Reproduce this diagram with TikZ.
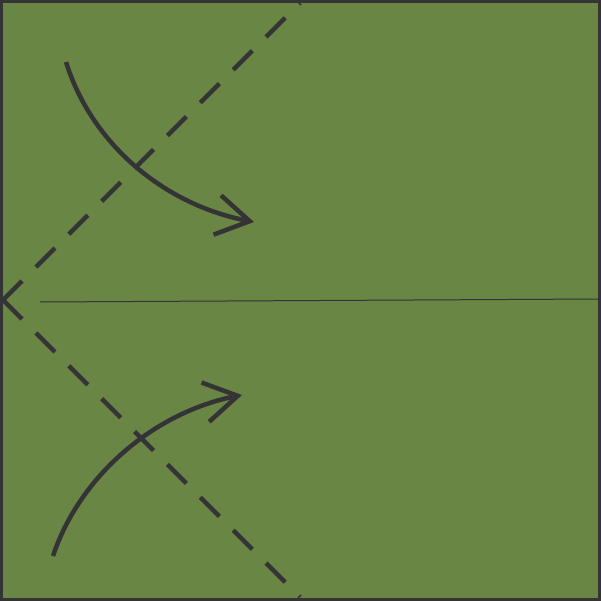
\documentclass[tikz,border=0pt]{standalone}
\usetikzlibrary{arrows.meta}

\definecolor{paper}{RGB}{106,134,68}
\definecolor{ink}{RGB}{52,51,54}

\tikzset{
  valley/.style={ink, line width=4.5pt, dash pattern=on 27pt off 19.5pt},
  flip/.style={ink, line width=4.5pt, -{Straight Barb[length=33pt, width=40pt, line width=4.5pt]}},
}

\begin{document}
\begin{tikzpicture}[x=1pt, y=-1pt]
  \useasboundingbox (0,0) rectangle (601,601);

  % Paper square
  \fill[paper] (1.5,1.5) rectangle (599.5,599.5);

  % Corner points of the folds
  \coordinate (corner) at (3,300);
  \coordinate (topend) at (300,3);
  \coordinate (botend) at (300,597);

  % Centre crease
  \draw[ink, line width=1pt] (40,302) -- (600,299);

  % Valley folds from the left corner
  \draw[valley] (corner) -- (topend);
  \draw[valley] (corner) -- (botend);

  % Edge of the paper
  \draw[ink, line width=3pt] (1.5,1.5) rectangle (599.5,599.5);

  % Fold arrows
  \coordinate (upstart) at (66,62);
  \coordinate (uptip) at (254,222);
  \draw[flip] (upstart) .. controls (92,145) and (165,205) .. (uptip);

  \coordinate (lowstart) at (53,556);
  \coordinate (lowtip) at (242,395);
  \draw[flip] (lowstart) .. controls (80,475) and (155,412) .. (lowtip);
\end{tikzpicture}
\end{document}
